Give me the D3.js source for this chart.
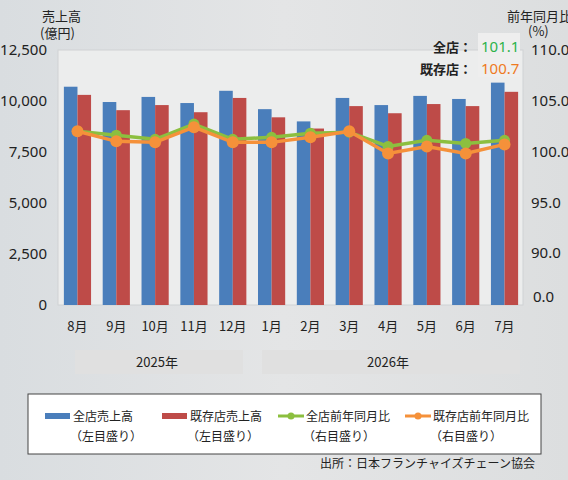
<!DOCTYPE html>
<html><head><meta charset="utf-8">
<script src="https://cdn.jsdelivr.net/npm/d3@7"></script>
<style>body{margin:0;}svg{display:block;font-family:"Noto Sans CJK JP","Noto Sans",sans-serif;}</style>
</head><body><div id="chart"></div>
<script>
var months = ["8月","9月","10月","11月","12月","1月","2月","3月","4月","5月","6月","7月"];
var allSales = [10700,9950,10200,9900,10500,9600,9000,10150,9800,10250,10100,10900];
var existSales = [10300,9550,9800,9450,10150,9200,8650,9750,9400,9850,9750,10450];
var allYoY = [102.0,101.6,101.2,102.7,101.2,101.4,101.8,101.9,100.5,101.1,100.8,101.1];
var existYoY = [102.0,101.0,100.9,102.4,100.9,100.9,101.4,102.0,99.8,100.5,99.8,100.7];
var leftTicks = [0,2500,5000,7500,10000,12500];
var rightTicks = [90,95,100,105,110];

var W = 568, H = 480;
var svg = d3.select("#chart").append("svg").attr("width", W).attr("height", H);

// background (stands in for the photo)
var grad = svg.append("defs").append("linearGradient").attr("id","bg").attr("x1",0).attr("x2",1);
grad.append("stop").attr("offset","0%").attr("stop-color","#d9dde0");
grad.append("stop").attr("offset","50%").attr("stop-color","#e4e5e6");
grad.append("stop").attr("offset","100%").attr("stop-color","#dcdedf");
svg.append("rect").attr("width",W).attr("height",H).attr("fill","url(#bg)");
svg.append("rect").attr("x",58).attr("y",50).attr("width",465).attr("height",255).attr("fill","#eceded").attr("stroke","#cfd2d4");

var x = d3.scaleBand().domain(months).range([60, 522]).paddingInner(0.3).paddingOuter(0.1);
var yL = d3.scaleLinear().domain([0,12500]).range([305,50]);
var yR = d3.scaleLinear().domain([90,110]).range([253,50]);

// left axis
var gL = svg.append("g").attr("transform","translate(50,0)")
  .call(d3.axisLeft(yL).tickValues(leftTicks).tickSize(0).tickFormat(d3.format(",")));
gL.select(".domain").remove();
gL.selectAll("text").attr("font-size",15).attr("fill","#222").attr("font-family","Noto Sans");

// right axis
var gR = svg.append("g").attr("transform","translate(520,0)")
  .call(d3.axisRight(yR).tickValues(rightTicks).tickSize(0).tickFormat(d3.format(".1f")));
gR.select(".domain").remove();
gR.selectAll("text").attr("font-size",15).attr("fill","#222").attr("font-family","Noto Sans").attr("dx",8);
svg.append("text").attr("x",533).attr("y",302).attr("font-size",15).attr("fill","#222").attr("font-family","Noto Sans").text("0.0");
svg.append("text").attr("x",505).attr("y",274).attr("font-size",14).attr("fill","#333").text("≈");

svg.append("text").attr("x",42).attr("y",21).attr("font-size",13).attr("fill","#222").text("売上高");
svg.append("text").attr("x",40).attr("y",38).attr("font-size",13).attr("fill","#222").text("(億円)");
svg.append("text").attr("x",507).attr("y",21).attr("font-size",13).attr("fill","#222").text("前年同月比");
svg.append("text").attr("x",528).attr("y",36).attr("font-size",13).attr("fill","#222").text("(%)");

// bars
var bw = x.bandwidth()/2;
svg.selectAll(".b1").data(allSales).enter().append("rect")
  .attr("x",(d,i)=>x(months[i])).attr("y",d=>yL(d)).attr("width",bw).attr("height",d=>305-yL(d)).attr("fill","#4a7ebb");
svg.selectAll(".b2").data(existSales).enter().append("rect")
  .attr("x",(d,i)=>x(months[i])+bw).attr("y",d=>yL(d)).attr("width",bw).attr("height",d=>305-yL(d)).attr("fill","#be4b48");

// lines
function drawLine(vals, color, r) {
  var line = d3.line().x((d,i)=>x(months[i])+bw).y(d=>yR(d));
  svg.append("path").datum(vals).attr("d",line).attr("fill","none").attr("stroke",color).attr("stroke-width",3.5);
  svg.selectAll(null).data(vals).enter().append("circle")
    .attr("cx",(d,i)=>x(months[i])+bw).attr("cy",d=>yR(d)).attr("r",r).attr("fill",color);
}
drawLine(allYoY,"#8cbf3f",5.5);
drawLine(existYoY,"#f5913a",6);

// latest values box
svg.append("rect").attr("x",478).attr("y",33).attr("width",42).attr("height",44).attr("fill","#eeeeee");
svg.append("text").attr("x",472).attr("y",52).attr("text-anchor","end").attr("font-size",13).attr("font-weight","bold").attr("fill","#222").text("全店：");
svg.append("text").attr("x",472).attr("y",74).attr("text-anchor","end").attr("font-size",13).attr("font-weight","bold").attr("fill","#222").text("既存店：");
svg.append("text").attr("x",481).attr("y",52).attr("font-size",15).attr("fill","#2db34a").attr("font-family","Noto Sans").text(allYoY[11].toFixed(1));
svg.append("text").attr("x",481).attr("y",74).attr("font-size",15).attr("fill","#ee7a22").attr("font-family","Noto Sans").text(existYoY[11].toFixed(1));

// month labels
svg.selectAll(".ml").data(months).enter().append("text")
  .attr("x",d=>x(d)+bw).attr("y",331).attr("text-anchor","middle").attr("font-size",13).attr("fill","#222").text(d=>d);

// year bands
svg.append("rect").attr("x",75).attr("y",350).attr("width",168).attr("height",24).attr("fill","#e0e0e0");
svg.append("rect").attr("x",262).attr("y",350).attr("width",258).attr("height",24).attr("fill","#e0e0e0");
svg.append("text").attr("x",157).attr("y",367).attr("text-anchor","middle").attr("font-size",13).attr("fill","#222").text("2025年");
svg.append("text").attr("x",388).attr("y",367).attr("text-anchor","middle").attr("font-size",13).attr("fill","#222").text("2026年");

// legend
svg.append("rect").attr("x",28).attr("y",394).attr("width",513).attr("height",60).attr("fill","#fff").attr("stroke","#444");
var legend = [
  {name:"全店売上高",sub:"（左目盛り）",color:"#4a7ebb",type:"bar",x:45},
  {name:"既存店売上高",sub:"（左目盛り）",color:"#be4b48",type:"bar",x:162},
  {name:"全店前年同月比",sub:"（右目盛り）",color:"#8cbf3f",type:"line",x:278},
  {name:"既存店前年同月比",sub:"（右目盛り）",color:"#f5913a",type:"line",x:405}
];
legend.forEach(function(l){
  if (l.type==="bar") svg.append("rect").attr("x",l.x).attr("y",413).attr("width",25).attr("height",6).attr("fill",l.color);
  else {
    svg.append("line").attr("x1",l.x).attr("x2",l.x+26).attr("y1",416).attr("y2",416).attr("stroke",l.color).attr("stroke-width",3);
    svg.append("circle").attr("cx",l.x+13).attr("cy",416).attr("r",3.5).attr("fill",l.color);
  }
  svg.append("text").attr("x",l.x+28).attr("y",421).attr("font-size",12).attr("fill","#222").text(l.name);
  svg.append("text").attr("x",l.x+25).attr("y",441).attr("font-size",12).attr("fill","#222").text(l.sub);
});

svg.append("text").attr("x",535).attr("y",468).attr("text-anchor","end").attr("font-size",12).attr("fill","#222").text("出所：日本フランチャイズチェーン協会");
</script></body></html>
